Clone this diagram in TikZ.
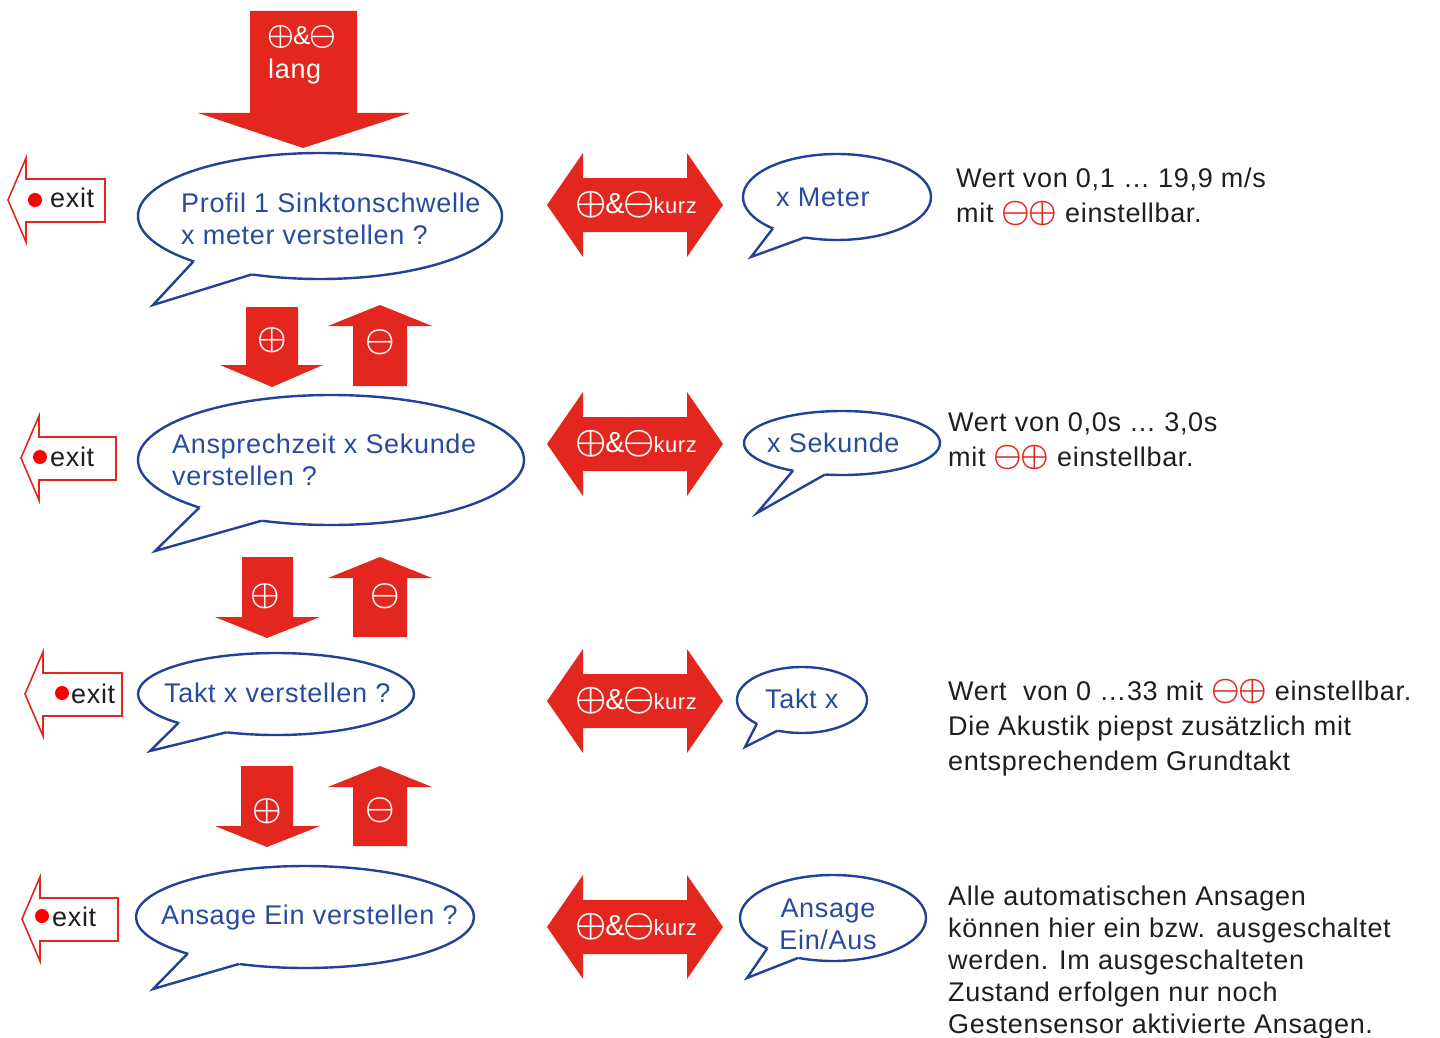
\RequirePackage{fix-cm}
\documentclass[tikz,border=0pt]{standalone}
\usepackage{fontspec}
\setmainfont{Liberation Sans}[LetterSpace=2.5]
\usetikzlibrary{calc}
\definecolor{arrred}{RGB}{227,38,30}
\definecolor{bblue}{RGB}{35,65,150}
\definecolor{tblue}{RGB}{40,75,160}
\definecolor{tgray}{RGB}{30,30,30}
\definecolor{dotred}{RGB}{255,0,0}

\newcommand\pmsym[1]{{\fontsize{#1}{#1}\selectfont\boldmath$\oplus$}}
\newcommand\mmsym[1]{{\fontsize{#1}{#1}\selectfont\boldmath$\ominus$}}
\newcommand\ampsym[1]{{\fontsize{#1}{#1}\selectfont\&}}
\newcommand\redmp{{\color{arrred}\raisebox{1pt}{\mmsym{32}\kern-2pt\pmsym{32}}}}

\newcommand\speechbubble[9]{%
  \coordinate (#1c) at (#2,#3);
  \draw[bubbleline] (#1c) ellipse [x radius=#4pt, y radius=#5pt];
  \coordinate (#1b1) at ($(#1c)+(#6:#4 and #5)$);
  \coordinate (#1b2) at ($(#1c)+(#7:#4 and #5)$);
  \coordinate (#1t) at (#8,#9);
  \fill[white] (#1b1) -- (#1t) -- (#1b2) -- ($(#1c)!0.85!(#1b2)$) -- ($(#1c)!0.85!(#1b1)$) -- cycle;
  \draw[tailline] (#1b1) -- (#1t) -- (#1b2);
}
\newcommand\kurzarrow[2]{%
  \fill[arrred] (547,#2) -- (583,#2-52) -- (583,#2-27) -- (687,#2-27) -- (687,#2-52)
    -- (723,#2) -- (687,#2+52) -- (687,#2+27) -- (583,#2+27) -- (583,#2+52) -- cycle;
  \node[text=white, inner sep=0pt] (#1) at (636,#2)
    {\pmsym{35}\kern-1pt\ampsym{29}\kern-1pt\mmsym{35}\kern-1.5pt{\fontsize{22}{22}\selectfont kurz}};
}
\newcommand\exitarrow[4]{%
  \draw[exitline] (#2,#3) -- (#2+18,#3-42) -- (#2+18,#3-21) -- (#4,#3-21) -- (#4,#3+22)
    -- (#2+18,#3+22) -- (#2+18,#3+42) -- cycle;
}

\begin{document}
\begin{tikzpicture}[x=1pt,y=-1pt,
  exitline/.style={draw=arrred, line width=1.6pt, fill=white, line join=miter},
  bubbleline/.style={draw=bblue, line width=2.4pt, fill=white},
  tailline/.style={draw=bblue, line width=2.4pt, line join=miter},
  btext/.style={text=tblue, font=\fontsize{27}{32}\selectfont, align=left, inner sep=0pt},
  ctext/.style={btext, align=center},
  rtext/.style={text=tgray, font=\fontsize{27}{35}\selectfont, align=left, inner sep=0pt, anchor=west},
  rtextb/.style={rtext, font=\fontsize{27}{32}\selectfont},
  etext/.style={text=tgray, font=\fontsize{27}{27}\selectfont, inner sep=0pt, anchor=west},
  wsym/.style={text=white, inner sep=0pt}
]
\useasboundingbox (0,0) rectangle (1440,1038);
\fill[white] (0,0) rectangle (1440,1038);

% top arrow
\fill[arrred] (250,11) -- (357,11) -- (357,113) -- (410,113) -- (303,148) -- (198,113) -- (250,113) -- cycle;
\node[wsym, anchor=west] (topsym) at (267,37) {\pmsym{30}\kern-1pt\ampsym{26}\kern-1pt\mmsym{30}};
\node[text=white, font=\fontsize{27}{27}\selectfont, inner sep=0pt, anchor=west] (toplang) at (268,72) {lang};

% exit arrows
\exitarrow{ex1}{8}{200}{105}
\fill[dotred] (35,200) circle (7pt);
\node[etext] (exit1) at (50,198) {exit};
\exitarrow{ex2}{21}{458}{116}
\fill[dotred] (40,457) circle (7pt);
\node[etext] (exit2) at (50,457) {exit};
\exitarrow{ex3}{25}{694}{122}
\fill[dotred] (62,693) circle (7pt);
\node[etext] (exit3) at (71,694) {exit};
\exitarrow{ex4}{22}{919}{118}
\fill[dotred] (42,916) circle (7pt);
\node[etext] (exit4) at (52,917) {exit};

% left bubbles
\speechbubble{bA}{320}{216}{182}{63}{134}{112}{153}{305}
\node[btext, anchor=west] (bAtext) at (181,219) {Profil 1 Sinktonschwelle\\x meter verstellen ?};
\speechbubble{bB}{331}{460}{193}{65}{133}{111}{155}{551}
\node[btext, anchor=west] (bBtext) at (172,460) {Ansprechzeit x Sekunde\\verstellen ?};
\speechbubble{bC}{276}{694}{138}{41}{135}{111}{150}{751}
\node[btext, anchor=west] (bCtext) at (164,693) {Takt x verstellen ?};
\speechbubble{bD}{305}{917}{169}{51}{134}{113}{153}{989}
\node[btext, anchor=west] (bDtext) at (161,918) {Ansage Ein verstellen ?};

% up / down arrows
\fill[arrred] (246,307) -- (298,307) -- (298,365) -- (323,365) -- (272,387) -- (220,365) -- (246,365) -- cycle;
\fill[arrred] (380,305) -- (432,326) -- (407,326) -- (407,386) -- (353,386) -- (353,326) -- (328,326) -- cycle;
\node[wsym] (p1) at (272,340) {\pmsym{33}};
\node[wsym] (m1) at (380,342) {\mmsym{33}};

\fill[arrred] (242,557) -- (293,557) -- (293,617) -- (320,617) -- (267,638) -- (215,617) -- (242,617) -- cycle;
\fill[arrred] (380,557) -- (432,578) -- (407,578) -- (407,637) -- (353,637) -- (353,578) -- (328,578) -- cycle;
\node[wsym] (p2) at (265,596) {\pmsym{33}};
\node[wsym] (m2) at (385,596) {\mmsym{33}};

\fill[arrred] (241,766) -- (293,766) -- (293,826) -- (320,826) -- (267,847) -- (215,826) -- (241,826) -- cycle;
\fill[arrred] (380,766) -- (432,787) -- (407,787) -- (407,846) -- (353,846) -- (353,787) -- (328,787) -- cycle;
\node[wsym] (p3) at (267,811) {\pmsym{33}};
\node[wsym] (m3) at (380,810) {\mmsym{33}};

% double arrows
\kurzarrow{k1}{205}
\kurzarrow{k2}{444}
\kurzarrow{k3}{701}
\kurzarrow{k4}{927}

% right bubbles
\speechbubble{rA}{837}{197}{94}{43}{133}{110}{751}{257}
\node[btext, anchor=west] (rAtext) at (776,197) {x Meter};
\speechbubble{rB}{842}{443}{98}{32}{120}{100}{757}{513}
\node[btext, anchor=west] (rBtext) at (767,443) {x Sekunde};
\speechbubble{rC}{802}{700}{65}{33}{134}{112}{745}{747}
\node[btext, anchor=west] (rCtext) at (765,699) {Takt x};
\speechbubble{rD}{833}{918}{93}{43}{135}{112}{747}{978}
\node[ctext] (rDtext) at (828,924) {Ansage\\Ein/Aus};

% descriptions
\node[rtext] (d1) at (956,197) {Wert von 0,1 … 19,9 m/s\\mit \redmp\ einstellbar.};
\node[rtext] (d2) at (948,441) {Wert von 0,0s … 3,0s\\mit \redmp\ einstellbar.};
\node[rtext] (d3) at (948,728) {Wert~ von 0 …33 mit \redmp\ einstellbar.\\Die Akustik piepst zusätzlich mit\\entsprechendem Grundtakt};
\node[rtextb] (d4) at (948,963) {Alle automatischen Ansagen\\können hier ein bzw. ausgeschaltet\\werden. Im ausgeschalteten\\Zustand erfolgen nur noch\\Gestensensor aktivierte Ansagen.};
\end{tikzpicture}
\end{document}
